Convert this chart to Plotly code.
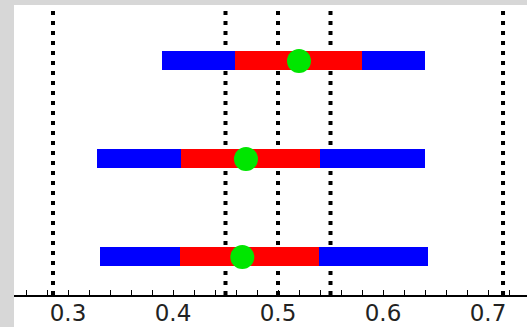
import plotly.graph_objects as go

# Data (rows from bottom to top)
rows = [0, 1, 2]
outer_low = [0.330, 0.328, 0.3895]
inner_low = [0.407, 0.408, 0.459]
medians = [0.466, 0.4695, 0.520]
inner_high = [0.539, 0.540, 0.580]
outer_high = [0.643, 0.640, 0.640]
ref_lines = [0.2857, 0.45, 0.50, 0.55, 0.7143]
tick_vals = [0.3, 0.4, 0.5, 0.6, 0.7]
tick_text = ["0.3", "0.4", "0.5", "0.6", "0.7"]

fig = go.Figure()

fig.add_trace(go.Bar(
    orientation="h", y=rows,
    x=[h - l for l, h in zip(outer_low, outer_high)], base=outer_low,
    width=0.194, marker=dict(color="#0000ff", line=dict(width=0)),
    showlegend=False, hoverinfo="skip"))
fig.add_trace(go.Bar(
    orientation="h", y=rows,
    x=[h - l for l, h in zip(inner_low, inner_high)], base=inner_low,
    width=0.194, marker=dict(color="#ff0000", line=dict(width=0)),
    showlegend=False, hoverinfo="skip"))
fig.add_trace(go.Scatter(
    x=medians, y=rows, mode="markers",
    marker=dict(color="#00e600", size=24, line=dict(width=0)),
    showlegend=False, hoverinfo="skip"))

# white panel over the textured gray paper
fig.add_shape(type="rect", xref="paper", yref="paper",
              x0=0, x1=1.01, y0=-0.2, y1=1,
              fillcolor="white", line=dict(width=0), layer="below")

for v in ref_lines:
    fig.add_vline(x=v, line=dict(color="black", width=4, dash="4px,6px"),
                  layer="below")

fig.update_layout(
    width=527, height=327,
    margin=dict(l=14, r=0, t=5, b=32),
    paper_bgcolor="#d7d7d7", plot_bgcolor="white",
    barmode="overlay", bargap=0,
    showlegend=False,
    xaxis=dict(
        range=[0.24857, 0.73714],
        tickvals=tick_vals, ticktext=tick_text,
        ticks="inside", ticklen=5, tickwidth=1, tickcolor="black",
        showline=True, linecolor="black", linewidth=1.5,
        showgrid=False, zeroline=False, automargin=False,
        ticklabelstandoff=-3,
        tickfont=dict(family="DejaVu Sans", size=23, color="#222222"),
        minor=dict(dtick=0.02, tick0=0.3, ticks="inside", ticklen=5,
                   tickcolor="black", tickwidth=1, showgrid=False),
    ),
    yaxis=dict(range=[-0.388, 2.571], visible=False,
               showgrid=False, zeroline=False),
)

fig.write_html("out.html", config={"displayModeBar": False},
               post_script="document.body.style.margin='0';document.body.style.padding='0';")
